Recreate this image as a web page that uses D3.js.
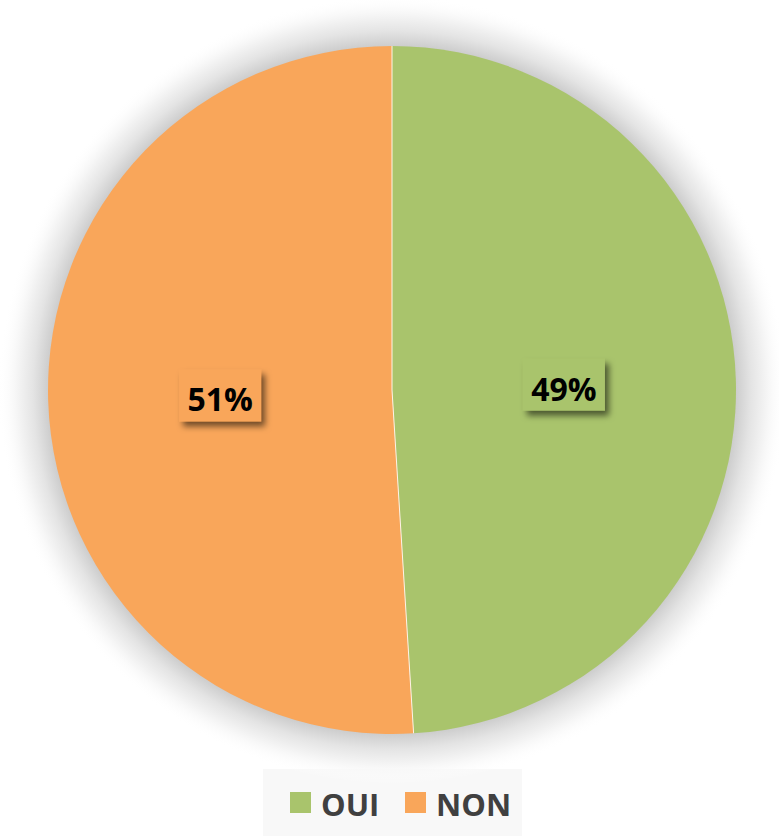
<!DOCTYPE html>
<html>
<head>
<meta charset="utf-8">
<script src="https://cdn.jsdelivr.net/npm/d3@7"></script>
<style>
  body { margin: 0; background: #fff; }
  svg { display: block; font-family: "Open Sans", sans-serif; }
</style>
</head>
<body>
<svg id="chart" width="779" height="836"></svg>
<script>
// chart data
var categories = ["OUI", "NON"];
var values = [49, 51];
var colors = ["#a9c46c", "#f9a65a"];

var width = 779, height = 836;
var cx = 392, cy = 390, radius = 344;

var svg = d3.select("#chart");
var defs = svg.append("defs");

// soft halo around the pie
var haloR = radius + 50;
var halo = defs.append("radialGradient").attr("id", "halo");
halo.append("stop").attr("offset", radius / haloR).attr("stop-color", "#cdcdcd");
halo.append("stop").attr("offset", (radius + 15) / haloR).attr("stop-color", "#e4e4e4");
halo.append("stop").attr("offset", (radius + 32) / haloR).attr("stop-color", "#f6f6f6");
halo.append("stop").attr("offset", "1").attr("stop-color", "#ffffff").attr("stop-opacity", 0);

var shadow = defs.append("filter").attr("id", "boxShadow")
    .attr("x", "-30%").attr("y", "-30%").attr("width", "170%").attr("height", "170%");
shadow.append("feDropShadow")
    .attr("dx", 4).attr("dy", 5).attr("stdDeviation", 3)
    .attr("flood-color", "#000").attr("flood-opacity", 0.55);

// legend background
svg.append("rect")
    .attr("x", 263).attr("y", 769)
    .attr("width", 259).attr("height", 67)
    .attr("fill", "#f8f8f8");

svg.append("circle")
    .attr("cx", cx).attr("cy", cy)
    .attr("r", haloR)
    .attr("fill", "url(#halo)");

var color = d3.scaleOrdinal().domain(categories).range(colors);

var pie = d3.pie()
    .sort(null)
    .value(function(d, i) { return values[i]; });

var arcs = pie(categories);

var arc = d3.arc().innerRadius(0).outerRadius(radius);

var g = svg.append("g").attr("transform", "translate(" + cx + "," + cy + ")");

g.selectAll("path.slice")
    .data(arcs)
  .enter().append("path")
    .attr("class", "slice")
    .attr("d", arc)
    .attr("fill", function(d) { return color(d.data); });

// thin separators between slices
g.selectAll("line.sep")
    .data(arcs)
  .enter().append("line")
    .attr("class", "sep")
    .attr("x1", 0).attr("y1", 0)
    .attr("x2", function(d) { return d3.pointRadial(d.startAngle, radius)[0]; })
    .attr("y2", function(d) { return d3.pointRadial(d.startAngle, radius)[1]; })
    .attr("stroke", "#fdf3e6")
    .attr("stroke-width", 1);

// data labels
var labels = g.selectAll("g.label")
    .data(arcs)
  .enter().append("g")
    .attr("class", "label")
    .attr("transform", function(d) { return "translate(" + arc.centroid(d) + ")"; });

labels.append("rect")
    .attr("x", -41).attr("y", -26)
    .attr("width", 82).attr("height", 52)
    .attr("fill", function(d) { return color(d.data); })
    .attr("filter", "url(#boxShadow)");

labels.append("text")
    .attr("text-anchor", "middle")
    .attr("y", 16)
    .attr("font-size", 32)
    .attr("font-weight", "bold")
    .attr("fill", "#000")
    .text(function(d) { return values[d.index] + "%"; });

// legend
var legendX = d3.scaleOrdinal().domain(categories).range([290, 405]);

var legend = svg.selectAll("g.legend")
    .data(categories)
  .enter().append("g")
    .attr("class", "legend")
    .attr("transform", function(d) { return "translate(" + legendX(d) + ",792)"; });

legend.append("rect")
    .attr("width", 21).attr("height", 21)
    .attr("fill", function(d) { return color(d); });

legend.append("text")
    .attr("x", 31).attr("y", 24)
    .attr("font-size", 31)
    .attr("font-weight", "bold")
    .attr("fill", "#404040")
    .text(function(d) { return d; });
</script>
</body>
</html>
